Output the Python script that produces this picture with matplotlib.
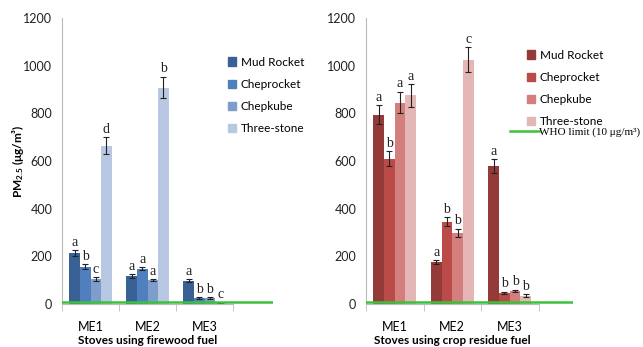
import numpy as np
import matplotlib
matplotlib.use("Agg")
import matplotlib.pyplot as plt
from matplotlib.patches import Patch
from matplotlib.lines import Line2D

plt.rcParams['font.family'] = ['Lato', 'DejaVu Sans']
plt.rcParams['mathtext.default'] = 'regular'

# -- data
methods = ['ME1', 'ME2', 'ME3']
stoves = ['Mud Rocket', 'Cheprocket', 'Chepkube', 'Three-stone']

# firewood fuel, PM2.5 in ug/m3 (rows: stoves, cols: ME1..ME3)
wood_mean = [[213, 117, 98],
             [157, 148, 25],
             [105, 100, 25],
             [665, 908, 5]]
wood_err = [[12, 8, 6],
            [10, 7, 3],
            [7, 5, 3],
            [35, 45, 0]]
wood_sig = [['a', 'a', 'a'],
            ['b', 'a', 'b'],
            ['c', 'a', 'b'],
            ['d', 'b', 'c']]

# crop residue fuel
crop_mean = [[795, 175, 578],
             [610, 345, 47],
             [845, 298, 55],
             [875, 1025, 35]]
crop_err = [[40, 8, 30],
            [30, 18, 4],
            [45, 17, 5],
            [48, 52, 5]]
crop_sig = [['a', 'a', 'a'],
            ['b', 'b', 'b'],
            ['a', 'b', 'b'],
            ['a', 'c', 'b']]

who_limit = 10

blues = ['#3a6195', '#4f80bd', '#7f9dcb', '#b8c8e2']
reds = ['#943a39', '#bb4b49', '#d27f7e', '#e5b6b6']
green = '#3cc13c'


def draw_panel(ax, means, errs, sigs, colors, xlabel):
    w = 0.185
    x = np.arange(len(methods)) + 0.5
    for i in range(len(stoves)):
        xs = x + (i - 1.5) * w
        ax.bar(xs, means[i], w, color=colors[i], yerr=errs[i],
               error_kw=dict(ecolor='#222222', elinewidth=0.8, capsize=2, capthick=0.8),
               zorder=2)
        for xi, m, e, s in zip(xs, means[i], errs[i], sigs[i]):
            ax.text(xi, m + e + 6, s, ha='center', va='bottom',
                    family='Liberation Serif', fontsize=10, color='#222222')
    ax.axhline(who_limit, color=green, lw=1.8, zorder=3)
    ax.set_ylim(0, 1200)
    ax.set_yticks(range(0, 1201, 200))
    ax.tick_params(axis='y', length=0, labelsize=9, colors='#222222', pad=7)
    ax.set_xticks(x)
    ax.set_xticklabels(methods)
    ax.set_xticks(range(4), minor=True)
    ax.tick_params(axis='x', which='major', length=0, labelsize=9, pad=12)
    ax.tick_params(axis='x', which='minor', length=5, color='#bbbbbb')
    for s in ['top', 'right']:
        ax.spines[s].set_visible(False)
    ax.spines['left'].set_color('#bbbbbb')
    ax.spines['bottom'].set_color('#bbbbbb')
    ax.spines['bottom'].set_bounds(0, 3)
    ax.text(1.5, -0.108, xlabel, transform=ax.get_xaxis_transform(),
            ha='center', va='top', fontsize=8.5, fontweight='bold')


fig = plt.figure(figsize=(6.43, 3.47), dpi=100)
ax1 = fig.add_axes([62 / 643, 43 / 347, 211 / 643, 286 / 347])
ax2 = fig.add_axes([366 / 643, 43 / 347, 207 / 643, 286 / 347])
ax1.set_xlim(0, 3.7)
ax2.set_xlim(0, 3.6)

draw_panel(ax1, wood_mean, wood_err, wood_sig, blues, 'Stoves using firewood fuel')
draw_panel(ax2, crop_mean, crop_err, crop_sig, reds, 'Stoves using crop residue fuel')
ax1.set_ylabel('PM$_{2.5}$ (μg/m³)', fontsize=8.5, fontweight='bold', labelpad=-2)

# legends
h1 = [Patch(color=c) for c in blues]
fig.legend(h1, stoves, loc='upper left', bbox_to_anchor=(217 / 643, 1 - 46 / 347),
           frameon=False, fontsize=8.5, handlelength=0.7, handleheight=0.7,
           handletextpad=0.4, labelspacing=0.95)
h2 = [Patch(color=c) for c in reds]
fig.legend(h2, stoves, loc='upper left', bbox_to_anchor=(516 / 643, 1 - 39 / 347),
           frameon=False, fontsize=8.5, handlelength=0.7, handleheight=0.7,
           handletextpad=0.4, labelspacing=0.95)
fig.legend([Line2D([], [], color=green, lw=1.8)], ['WHO limit (10 μg/m³)'],
           loc='upper left', bbox_to_anchor=(500 / 643, 1 - 117 / 347),
           frameon=False, prop={'family': 'Liberation Serif', 'size': 8},
           handlelength=2.6, handletextpad=0.0)

fig.savefig('out.png', dpi=100)
